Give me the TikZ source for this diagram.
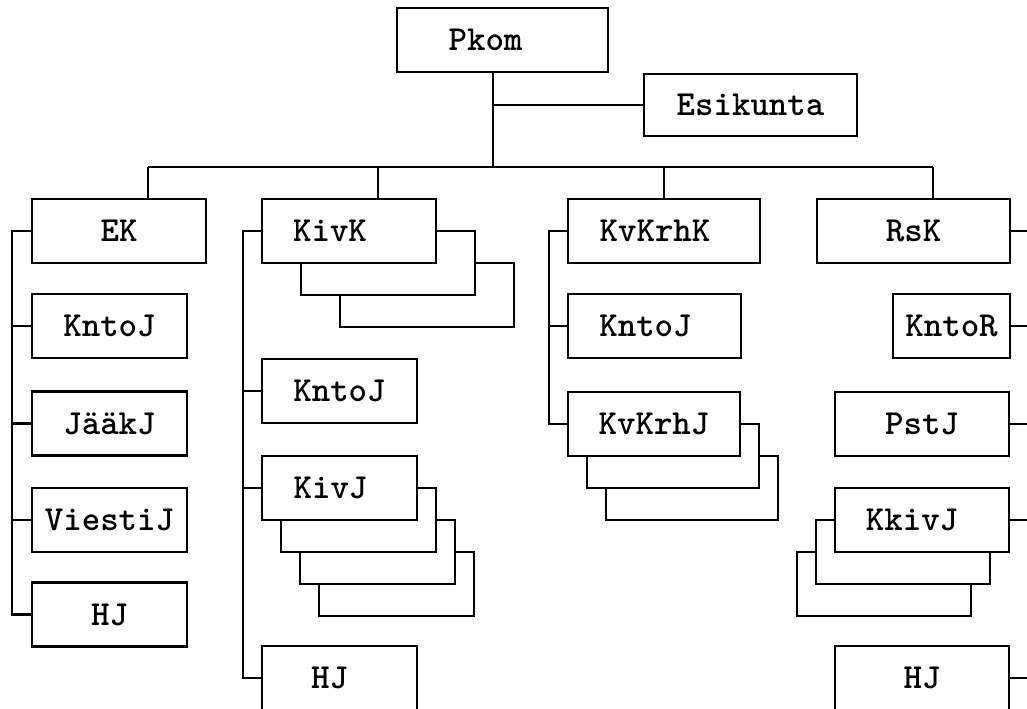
\documentclass[tikz,border=0pt]{standalone}
\usepackage{fontspec}

\begin{document}
\begin{tikzpicture}[x=0.75pt,y=-0.75pt,
	unit/.style={draw, line width=1.8pt, fill=white, inner sep=0pt, minimum height=48pt,
		font=\ttfamily\bfseries\fontsize{26.4}{26.4}\selectfont},
	wd/.style={minimum width=#1*0.75pt},
	nudge/.style={execute at begin node={\hspace*{\dimexpr #1pt*3/2\relax}}},
	link/.style={line width=1.8pt}]
		\useasboundingbox (0,0) rectangle (1027,708);
		\clip (0,0) rectangle (1027,708);
		
		\node[unit, wd=211, nudge=-17] (pkom) at (502.5,40) {Pkom};
		\node[unit, wd=213, minimum height=46.5pt] (esikunta) at (750.5,105) {Esikunta};
		
		% stacked copies behind
		\foreach \i in {2,1} \node[unit, wd=174] at (349+39*\i, 231+32*\i) {};
		\foreach \i in {3,2,1} \node[unit, wd=155] at (339.5+19*\i, 488+32*\i) {};
		\foreach \i in {2,1} \node[unit, wd=172] at (654+19*\i, 424+32*\i) {};
		\foreach \i in {2,1} \node[unit, wd=174] at (922-19*\i, 520+32*\i) {};
		
		\node[unit, wd=174] (ek) at (119,231) {EK};
		\node[unit, wd=155] (kntoja) at (109.5,326) {KntoJ};
		\node[unit, wd=155] (jaakj) at (109.5,423.5) {JääkJ};
		\node[unit, wd=155] (viestij) at (109.5,520) {ViestiJ};
		\node[unit, wd=155] (hja) at (109.5,614.5) {HJ};
		
		\node[unit, wd=174, nudge=-19] (kivk) at (349,231) {KivK};
		\node[unit, wd=155] (kntojb) at (339.5,391) {KntoJ};
		\node[unit, wd=155, nudge=-9] (kivj) at (339.5,488) {KivJ};
		\node[unit, wd=155, nudge=-10] (hjb) at (339.5,678) {HJ};
		
		\node[unit, wd=192, nudge=-9] (kvkrhk) at (664,231) {KvKrhK};
		\node[unit, wd=173, nudge=-9] (kntojc) at (654.5,326) {KntoJ};
		\node[unit, wd=172] (kvkrhj) at (654,424) {KvKrhJ};
		
		\node[unit, wd=193] (rsk) at (913.5,231) {RsK};
		\node[unit, wd=117] (kntor) at (951.5,326) {KntoR};
		\node[unit, wd=174] (pstj) at (922,424) {PstJ};
		\node[unit, wd=174, nudge=-10] (kkivj) at (922,520) {KkivJ};
		\node[unit, wd=174] (hjd) at (922,678) {HJ};
		
		% bus and drops
		\coordinate (top) at (493,167);
		\coordinate (da) at (148,167);
		\coordinate (db) at (378,167);
		\coordinate (dc) at (664,167);
		\coordinate (dd) at (933,167);
		\draw[link] (pkom.south -| top) -- (top);
		\draw[link] (esikunta.west) -- (esikunta.west -| top);
		\draw[link] (da) -- (dd);
		\foreach \d/\n in {da/ek, db/kivk, dc/kvkrhk, dd/rsk}
			\draw[link] (\d) -- (\d |- \n.north);
		
		% side spines
		\coordinate (sa) at (12,0);
		\coordinate (sb) at (243,0);
		\coordinate (sc) at (549,0);
		\coordinate (sd) at (1040,0);
		\draw[link] (ek.west) -- (ek.west -| sa) -- (hja.west -| sa) -- (hja.west);
		\foreach \n in {kntoja, jaakj, viestij} \draw[link] (\n.west) -- (\n.west -| sa);
		\draw[link] (kivk.west) -- (kivk.west -| sb) -- (hjb.west -| sb) -- (hjb.west);
		\foreach \n in {kntojb, kivj} \draw[link] (\n.west) -- (\n.west -| sb);
		\draw[link] (kvkrhk.west) -- (kvkrhk.west -| sc) -- (kvkrhj.west -| sc) -- (kvkrhj.west);
		\draw[link] (kntojc.west) -- (kntojc.west -| sc);
		\draw[link] (rsk.east) -- (rsk.east -| sd) -- (hjd.east -| sd) -- (hjd.east);
		\foreach \n in {kntor, pstj, kkivj} \draw[link] (\n.east) -- (\n.east -| sd);
	\end{tikzpicture}
\end{document}
